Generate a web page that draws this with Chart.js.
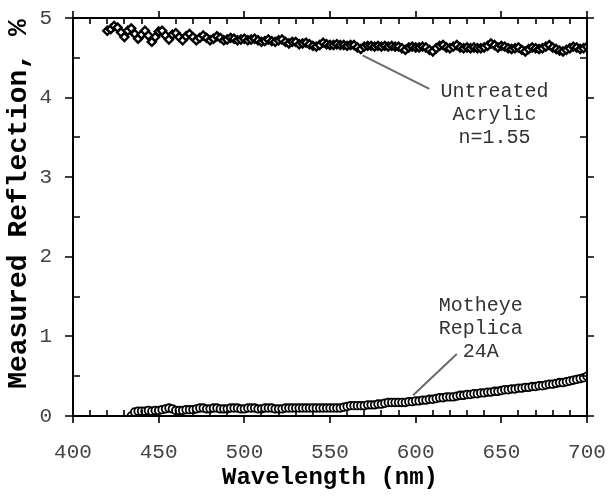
<!DOCTYPE html>
<html>
<head>
<meta charset="utf-8">
<script src="https://cdn.jsdelivr.net/npm/chart.js@4"></script>
<style>
  html, body { margin: 0; padding: 0; background: #fff; }
  #wrap { width: 611px; height: 496px; }
</style>
</head>
<body>
<div id="wrap"><canvas id="chart" width="611" height="496"></canvas></div>
<script>
// untreated acrylic (diamonds)
const acrylicWl = [420,
  422,424,426,428,430,432,434,436,438,440,
  442,444,446,448,450,452,454,456,458,460,
  462,464,466,468,470,472,474,476,478,480,
  482,484,486,488,490,492,494,496,498,500,
  502,504,506,508,510,512,514,516,518,520,
  522,524,526,528,530,532,534,536,538,540,
  542,544,546,548,550,552,554,556,558,560,
  562,564,566,568,570,572,574,576,578,580,
  582,584,586,588,590,592,594,596,598,600,
  602,604,606,608,610,612,614,616,618,620,
  622,624,626,628,630,632,634,636,638,640,
  642,644,646,648,650,652,654,656,658,660,
  662,664,666,668,670,672,674,676,678,680,
  682,684,686,688,690,692,694,696,698,700];
const acrylicR = [4.84,
  4.86,4.90,4.88,4.82,4.76,4.84,4.87,4.80,4.74,4.79,
  4.84,4.78,4.70,4.76,4.83,4.84,4.78,4.73,4.79,4.81,
  4.76,4.72,4.77,4.80,4.76,4.72,4.75,4.78,4.75,4.72,
  4.74,4.77,4.75,4.72,4.73,4.75,4.74,4.72,4.73,4.74,
  4.72,4.73,4.74,4.72,4.70,4.71,4.73,4.71,4.70,4.72,
  4.73,4.70,4.68,4.70,4.70,4.67,4.68,4.69,4.67,4.65,
  4.64,4.66,4.69,4.67,4.66,4.66,4.67,4.66,4.66,4.65,
  4.66,4.66,4.63,4.61,4.64,4.65,4.65,4.64,4.65,4.64,
  4.65,4.64,4.65,4.64,4.64,4.62,4.60,4.63,4.64,4.63,
  4.63,4.64,4.63,4.60,4.58,4.62,4.65,4.66,4.63,4.62,
  4.64,4.66,4.63,4.62,4.63,4.62,4.63,4.62,4.62,4.63,
  4.65,4.68,4.66,4.63,4.65,4.64,4.62,4.61,4.62,4.63,
  4.60,4.58,4.61,4.63,4.62,4.61,4.62,4.64,4.66,4.63,
  4.61,4.59,4.58,4.60,4.62,4.64,4.63,4.61,4.62,4.64];

// motheye replica 24A (circles)
const replicaWl = [
  434,436,438,440,442,444,446,448,450,452,
  454,456,458,460,462,464,466,468,470,472,
  474,476,478,480,482,484,486,488,490,492,
  494,496,498,500,502,504,506,508,510,512,
  514,516,518,520,522,524,526,528,530,532,
  534,536,538,540,542,544,546,548,550,552,
  554,556,558,560,562,564,566,568,570,572,
  574,576,578,580,582,584,586,588,590,592,
  594,596,598,600,602,604,606,608,610,612,
  614,616,618,620,622,624,626,628,630,632,
  634,636,638,640,642,644,646,648,650,652,
  654,656,658,660,662,664,666,668,670,672,
  674,676,678,680,682,684,686,688,690,692,
  694,696,698,700];
const replicaR = [
  0.00,0.05,0.06,0.06,0.06,0.07,0.06,0.07,0.07,0.08,
  0.09,0.10,0.09,0.07,0.07,0.07,0.08,0.08,0.08,0.09,
  0.10,0.10,0.09,0.09,0.10,0.10,0.09,0.09,0.09,0.10,
  0.10,0.10,0.09,0.09,0.10,0.10,0.10,0.09,0.09,0.10,
  0.10,0.10,0.09,0.09,0.09,0.10,0.10,0.10,0.10,0.10,
  0.10,0.10,0.10,0.10,0.10,0.10,0.10,0.10,0.10,0.10,
  0.10,0.10,0.11,0.12,0.13,0.13,0.13,0.13,0.13,0.14,
  0.14,0.14,0.15,0.15,0.16,0.17,0.17,0.17,0.17,0.17,
  0.17,0.18,0.18,0.19,0.19,0.20,0.20,0.21,0.21,0.22,
  0.23,0.23,0.24,0.24,0.24,0.25,0.26,0.26,0.27,0.27,
  0.28,0.28,0.29,0.29,0.30,0.30,0.31,0.31,0.32,0.33,
  0.33,0.34,0.34,0.35,0.35,0.36,0.36,0.37,0.37,0.38,
  0.38,0.39,0.40,0.40,0.41,0.42,0.42,0.43,0.44,0.45,
  0.46,0.47,0.48,0.50];

const xTicks = [400, 450, 500, 550, 600, 650, 700];
const yTicks = [0, 1, 2, 3, 4, 5];

// label text, anchor of middle line (data coords) and leader line (data coords)
const notes = [
  { lines: ['Untreated', 'Acrylic', 'n=1.55'], at: [646, 3.78], lead: [[569, 4.53], [608, 4.11]] },
  { lines: ['Motheye', 'Replica', '24A'], at: [638, 1.10], lead: [[598.5, 0.26], [624, 0.78]] }
];

const FONT = "'Liberation Mono', 'Courier New', monospace";

const pts = (xs, ys) => xs.map((x, i) => ({ x: x, y: ys[i] }));

// axis frame with ticks (majors outward, minors inward) on all four sides
const framePlugin = {
  id: 'frame',
  afterDraw(chart) {
    const { ctx, chartArea: a, scales: { x, y } } = chart;
    ctx.save();
    ctx.strokeStyle = '#000';
    ctx.lineWidth = 2;
    ctx.beginPath();
    ctx.rect(a.left, a.top, a.right - a.left, a.bottom - a.top);
    ctx.stroke();
    ctx.lineWidth = 1.6;
    ctx.beginPath();
    for (let v = 400; v <= 700; v += 10) {
      const px = Math.round(x.getPixelForValue(v));
      if (v % 50 === 0) {
        ctx.moveTo(px, a.bottom); ctx.lineTo(px, a.bottom + 7);
        ctx.moveTo(px, a.top); ctx.lineTo(px, a.top - 7);
      } else {
        ctx.moveTo(px, a.bottom); ctx.lineTo(px, a.bottom - 6);
        ctx.moveTo(px, a.top); ctx.lineTo(px, a.top + 6);
      }
    }
    for (let k = 0; k <= 10; k++) {
      const py = Math.round(y.getPixelForValue(k / 2));
      if (k % 2 === 0) {
        ctx.moveTo(a.left, py); ctx.lineTo(a.left - 8, py);
        ctx.moveTo(a.right, py); ctx.lineTo(a.right + 7, py);
      } else {
        ctx.moveTo(a.left, py); ctx.lineTo(a.left + 7, py);
        ctx.moveTo(a.right, py); ctx.lineTo(a.right - 7, py);
      }
    }
    ctx.stroke();

    // y axis title (sits a bit above the plot's middle)
    ctx.save();
    ctx.translate(19, 204);
    ctx.rotate(-Math.PI / 2);
    ctx.fillStyle = '#000';
    ctx.font = 'bold 28px ' + FONT;
    ctx.textAlign = 'center';
    ctx.textBaseline = 'middle';
    ctx.fillText('Measured Reflection, %', 0, 0);
    ctx.restore();

    // callouts
    ctx.strokeStyle = '#6b6b6b';
    ctx.lineWidth = 2;
    ctx.fillStyle = '#333';
    ctx.font = '20px ' + FONT;
    ctx.textAlign = 'center';
    ctx.textBaseline = 'middle';
    notes.forEach(n => {
      ctx.beginPath();
      ctx.moveTo(x.getPixelForValue(n.lead[0][0]), y.getPixelForValue(n.lead[0][1]));
      ctx.lineTo(x.getPixelForValue(n.lead[1][0]), y.getPixelForValue(n.lead[1][1]));
      ctx.stroke();
      const cx = x.getPixelForValue(n.at[0]);
      const cy = y.getPixelForValue(n.at[1]);
      n.lines.forEach((t, i) => ctx.fillText(t, cx, cy - 23 + i * 23));
    });
    ctx.restore();
  }
};

new Chart(document.getElementById('chart'), {
  type: 'scatter',
  data: {
    datasets: [
      {
        label: 'Untreated Acrylic',
        data: pts(acrylicWl, acrylicR),
        pointStyle: 'rectRot',
        pointRadius: 4,
        borderColor: '#000',
        backgroundColor: '#fff',
        borderWidth: 2.4,
        showLine: false
      },
      {
        label: 'Motheye Replica 24A',
        data: pts(replicaWl, replicaR),
        pointStyle: 'circle',
        pointRadius: 3.8,
        borderColor: '#000',
        backgroundColor: '#fff',
        borderWidth: 1.8,
        showLine: false
      }
    ]
  },
  options: {
    responsive: false,
    animation: false,
    layout: { padding: { left: 0, right: 24, top: 18, bottom: 0 } },
    plugins: { legend: { display: false }, tooltip: { enabled: false } },
    scales: {
      x: {
        type: 'linear', min: 400, max: 700,
        afterBuildTicks: s => { s.ticks = xTicks.map(v => ({ value: v })); },
        afterFit: s => { s.height = 80; s.paddingLeft = 0; s.paddingRight = 0; },
        grid: { display: false, drawTicks: false },
        border: { display: false },
        ticks: { color: '#444', padding: 24, font: { family: FONT, size: 21 }, maxRotation: 0 },
        title: { display: true, text: 'Wavelength (nm)', color: '#000', padding: { top: 0, bottom: 4 },
                 font: { family: FONT, size: 24, weight: 'bold' } }
      },
      y: {
        min: 0, max: 5,
        afterBuildTicks: s => { s.ticks = yTicks.map(v => ({ value: v })); },
        afterFit: s => { s.width = 73; s.paddingTop = 0; s.paddingBottom = 0; },
        grid: { display: false, drawTicks: false },
        border: { display: false },
        ticks: { color: '#444', padding: 21, font: { family: FONT, size: 21 } },
        title: { display: false }
      }
    }
  },
  plugins: [framePlugin]
});
</script>
</body>
</html>
